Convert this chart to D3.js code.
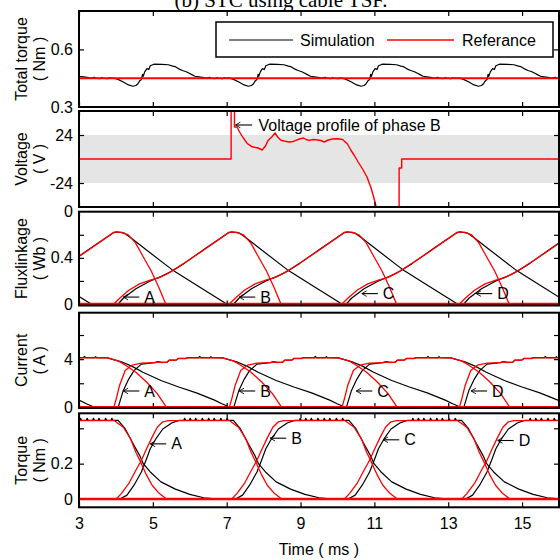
<!DOCTYPE html>
<html>
<head>
<meta charset="utf-8">
<script src="https://cdn.jsdelivr.net/npm/d3@7"></script>
<style>
body { margin: 0; background: #fff; }
svg { display: block; }
</style>
</head>
<body>
<div id="chart"></div>
<script>
// ---- data ----
// time axis (ms)
var timeDomain = [3, 16];
var timeTicks = [3, 5, 7, 9, 11, 13, 15];

// start of each phase stroke (ms), taken from the rising edges
var strokeStarts = [-2.85, 0.82, 3.94, 7.07, 10.12, 13.3];
var phaseNames = ["A", "B", "C", "D"];

// y tick marks and labelled values per panel
var totalTicks = [0.6], totalLabels = [0.3, 0.6];
var voltTicks = [-24, 24], voltLabels = [-24, 24];
var fluxTicks = [0.2, 0.4, 0.6], fluxLabels = [0, 0.4, 0.8];
var curTicks = [2, 4, 6], curLabels = [0, 4];
var torqTicks = [0.2, 0.4], torqLabels = [0, 0.2];

// total torque: reference value and one stroke of the simulated ripple [ms after stroke start, Nm]
var totalRef = 0.45;
var totalBump = [[0,0.45],[0.1,0.445],[0.26,0.43],[0.4,0.415],[0.52,0.408],[0.6,0.412],[0.65,0.42],
  [0.7,0.435],[0.75,0.443],[0.78,0.47],[0.8,0.46],[0.84,0.483],[0.9,0.5],[0.95,0.495],[0.99,0.515],
  [1.09,0.523],[1.3,0.522],[1.48,0.52],[1.6,0.513],[1.67,0.51],[1.75,0.5],[1.86,0.49],[1.95,0.485],
  [2.06,0.474],[2.1,0.47],[2.2,0.46],[2.3,0.457],[2.45,0.453],[2.5,0.45],[2.6,0.455],[2.62,0.45],
  [2.75,0.448],[2.8,0.454],[2.82,0.45],[2.95,0.447],[3.0,0.453],[3.02,0.45],[3.1,0.45]];

// phase B voltage [ms, V]
var voltB = [[3,0],[7.12,0],[7.12,60],[7.21,60],[7.21,32],[7.28,32],[7.35,27],[7.45,21],[7.56,15.4],
  [7.69,12.2],[7.85,11],[7.96,9],[8.05,13],[8.12,18.6],[8.22,22],[8.31,26],[8.38,22],[8.46,19],
  [8.55,18],[8.69,17],[8.8,17.5],[8.87,18.6],[8.97,20],[9.08,21],[9.15,19.5],[9.23,18.6],[9.35,19.5],
  [9.46,19],[9.55,18.5],[9.64,17],[9.75,19],[9.87,20],[10.0,20.2],[10.14,19.5],[10.27,15],[10.36,9],
  [10.45,4],[10.56,-3],[10.68,-10],[10.8,-18],[10.91,-29],[10.98,-38],[11.05,-48],[11.1,-60],
  [11.67,-60],[11.67,-9],[11.74,-9],[11.74,0],[16,0]];
var voltBand = [-24, 24];

// flux linkage of one phase stroke [ms after stroke start, Wb]
var fluxRef = [[0,0],[0.16,0.05],[0.41,0.119],[0.7,0.174],[0.99,0.207],[1.23,0.229],[1.47,0.265],
  [1.77,0.325],[2.4,0.46],[3.13,0.623],[3.32,0.623],[3.51,0.6],[3.71,0.53],[3.9,0.42],[4.14,0.284],
  [4.34,0.146],[4.53,0]];
var fluxSim = [[0.12,0],[0.26,0.05],[0.6,0.132],[0.99,0.2],[1.28,0.237],[1.57,0.284],[1.9,0.35],
  [2.5,0.485],[3.1,0.615],[3.2,0.625],[3.3,0.62],[3.4,0.615],[3.6,0.57],[4.0,0.47],[4.69,0.3],
  [5.4,0.155],[6.18,0]];

// phase current of one stroke [ms after stroke start, A]
var curRef = [[0,0],[0.07,0.73],[0.16,1.84],[0.31,3.05],[0.5,3.51],[0.75,3.67],[1.1,3.7],[1.2,3.78],
  [1.3,3.72],[1.45,3.75],[1.5,3.9],[1.7,3.92],[1.75,4.05],[1.95,4.05],[2.0,4.1],[2.95,4.1],[3.24,3.86],
  [3.43,3.51],[3.72,2.91],[4.01,2.1],[4.3,1.14],[4.55,0]];
var curSim = [[0.12,0],[0.26,1.41],[0.41,2.37],[0.55,3.05],[0.75,3.59],[0.99,3.67],[1.1,3.72],[1.2,3.8],
  [1.3,3.74],[1.45,3.76],[1.5,3.92],[1.7,3.94],[1.75,4.06],[1.95,4.06],[2.0,4.12],[2.3,4.12],[2.33,4.22],
  [2.36,4.12],[2.6,4.12],[2.63,4.2],[2.66,4.12],[2.95,4.1],[3.33,3.78],[3.62,3.4],[3.91,2.91],[4.4,2.23],
  [4.88,1.69],[5.36,1.2],[5.85,0.6],[6.05,0.3],[6.24,0.05],[6.3,0]];

// phase torque of one stroke [ms after stroke start, Nm]
var torqRef = [[0.07,0],[0.21,0.032],[0.41,0.088],[0.6,0.163],[0.75,0.219],[0.89,0.284],[1.04,0.35],
  [1.18,0.406],[1.33,0.437],[1.48,0.443],[3.14,0.443],[3.38,0.406],[3.58,0.34],[3.72,0.265],[3.87,0.2],
  [4.01,0.135],[4.16,0.078],[4.35,0.032],[4.55,0]];
var torqSim = [[0.17,0],[0.36,0.022],[0.55,0.078],[0.75,0.153],[0.89,0.228],[0.99,0.284],[1.14,0.34],
  [1.33,0.396],[1.57,0.43],[1.77,0.445],[1.9,0.445],[1.92,0.457],[1.95,0.445],[2.05,0.445],[2.07,0.457],
  [2.1,0.445],[2.2,0.445],[2.22,0.457],[2.25,0.445],[2.38,0.445],[2.4,0.457],[2.43,0.445],[2.55,0.445],
  [2.57,0.457],[2.6,0.445],[2.7,0.445],[2.72,0.457],[2.75,0.445],[2.88,0.445],[2.9,0.457],[2.93,0.445],
  [3.05,0.445],[3.07,0.457],[3.1,0.445],[3.24,0.445],[3.43,0.398],[3.62,0.323],[3.82,0.247],[3.92,0.2],
  [4.11,0.153],[4.4,0.097],[4.79,0.056],[5.18,0.026],[5.56,0.007],[5.95,0]];

// phase label arrows: arrow head time (ms) and height (panel units)
var fluxLabelT = [4.2, 7.34, 10.66, 13.76], fluxLabelV = [0.06, 0.06, 0.09, 0.09];
var curLabelT = [4.2, 7.34, 10.51, 13.62], curLabelV = [1.36, 1.36, 1.36, 1.36];
var torqLabelT = [4.93, 8.18, 11.24, 14.34], torqLabelV = [0.312, 0.344, 0.335, 0.331];

// ---- layout ----
var width = 560, height = 560;
var x = d3.scaleLinear().domain(timeDomain).range([79, 559]);

var svg = d3.select("#chart").append("svg")
    .attr("width", width)
    .attr("height", height)
    .style("font-family", "'Liberation Sans', Arial, sans-serif");

// open arrow head, pointing back along the line (like a "←")
svg.append("defs").append("marker")
    .attr("id", "head")
    .attr("viewBox", "-1 -5 10 10")
    .attr("refX", 0).attr("refY", 0)
    .attr("markerWidth", 8).attr("markerHeight", 8)
    .attr("markerUnits", "userSpaceOnUse")
    .attr("orient", "auto")
    .append("path")
    .attr("d", "M6,-3.5L0,0L6,3.5")
    .attr("fill", "none")
    .attr("stroke", "#000")
    .attr("stroke-width", 1.1);

// title, cut at the top edge like the original
svg.append("text")
    .attr("x", 281).attr("y", 7)
    .attr("text-anchor", "middle")
    .style("font-family", "'Liberation Serif', 'Times New Roman', serif")
    .style("font-size", "21px")
    .text("(b) STC using cable TSF.");

var panels = [
  {id: "p1", top: 11, bottom: 107, domain: [0.3, 0.8], ticks: totalTicks, labels: totalLabels, title: ["Total torque", "( Nm )"]},
  {id: "p2", top: 111, bottom: 207, domain: [-48, 48], ticks: voltTicks, labels: voltLabels, title: ["Voltage", "( V )"]},
  {id: "p3", top: 211.7, bottom: 305.5, domain: [-0.013, 0.8], ticks: fluxTicks, labels: fluxLabels, title: ["Fluxlinkage", "( Wb )"]},
  {id: "p4", top: 312.7, bottom: 408, domain: [-0.05, 7.85], ticks: curTicks, labels: curLabels, title: ["Current", "( A )"]},
  {id: "p5", top: 413.3, bottom: 507.3, domain: [-0.047, 0.485], ticks: torqTicks, labels: torqLabels, title: ["Torque", "( Nm )"]}
];

panels.forEach(function(p) {
    p.y = d3.scaleLinear().domain(p.domain).range([p.bottom, p.top]);
    p.g = svg.append("g");
    p.g.append("clipPath").attr("id", "clip-" + p.id)
        .append("rect")
        .attr("x", x.range()[0]).attr("y", p.top)
        .attr("width", x.range()[1] - x.range()[0]).attr("height", p.bottom - p.top);
    p.plot = p.g.append("g").attr("clip-path", "url(#clip-" + p.id + ")");
});

function lineFor(y) {
    return d3.line().x(function(d) { return x(d[0]); }).y(function(d) { return y(d[1]); });
}

function shifted(tpl, s) {
    return tpl.map(function(d) { return [d[0] + s, d[1]]; });
}

function drawPath(g, pts, y, color, w) {
    g.append("path")
        .datum(pts)
        .attr("d", lineFor(y))
        .attr("fill", "none")
        .attr("stroke", color)
        .attr("stroke-width", w)
        .attr("stroke-linejoin", "round");
}

// ---- panel 1: total torque ----
var p1 = panels[0];
var totalStarts = strokeStarts.filter(function(s) { return s > 0; });
var totalPts = [];
totalStarts.forEach(function(s, i) {
    var next = i < totalStarts.length - 1 ? totalStarts[i + 1] : timeDomain[1] + 1;
    totalBump.forEach(function(d) {
        if (d[0] + s < next) totalPts.push([d[0] + s, d[1]]);
    });
});
drawPath(p1.plot, totalPts, p1.y, "#000", 1.2);
drawPath(p1.plot, [[timeDomain[0], totalRef], [timeDomain[1], totalRef]], p1.y, "#ff0000", 2);

// legend
var leg = svg.append("g");
leg.append("rect").attr("x", 216).attr("y", 22).attr("width", 337).attr("height", 35)
    .attr("fill", "#fff").attr("stroke", "#000").attr("stroke-width", 1.5);
leg.append("line").attr("x1", 229).attr("x2", 293).attr("y1", 40).attr("y2", 40)
    .attr("stroke", "#000").attr("stroke-width", 1.2);
leg.append("text").attr("x", 300).attr("y", 40).attr("dy", "0.35em")
    .style("font-size", "16px").text("Simulation");
leg.append("line").attr("x1", 387).attr("x2", 454).attr("y1", 40).attr("y2", 40)
    .attr("stroke", "#ff0000").attr("stroke-width", 1.5);
leg.append("text").attr("x", 462).attr("y", 40).attr("dy", "0.35em")
    .style("font-size", "16px").text("Referance");

// ---- panel 2: voltage ----
var p2 = panels[1];
p2.plot.append("rect")
    .attr("x", x.range()[0]).attr("width", x.range()[1] - x.range()[0])
    .attr("y", p2.y(voltBand[1])).attr("height", p2.y(voltBand[0]) - p2.y(voltBand[1]))
    .attr("fill", "#e5e5e5");
drawPath(p2.plot, voltB, p2.y, "#ff0000", 1.4);
svg.append("line")
    .attr("x1", x(7.24)).attr("x2", x(7.69))
    .attr("y1", p2.y(34)).attr("y2", p2.y(34))
    .attr("stroke", "#000").attr("stroke-width", 1.1)
    .attr("marker-start", "url(#head)");
svg.append("text").attr("x", x(7.86)).attr("y", p2.y(34)).attr("dy", "0.35em")
    .style("font-size", "16px").text("Voltage profile of phase B");

// ---- panels 3-5: per-phase curves ----
function drawPhases(p, simTpl, refTpl) {
    drawPath(p.plot, [[timeDomain[0], 0], [timeDomain[1], 0]], p.y, "#000", 1.2);
    strokeStarts.forEach(function(s) {
        drawPath(p.plot, shifted(simTpl, s), p.y, "#000", 1.2);
    });
    strokeStarts.forEach(function(s) {
        drawPath(p.plot, shifted(refTpl, s), p.y, "#ff0000", 1.3);
    });
    drawPath(p.plot, [[timeDomain[0], 0], [timeDomain[1], 0]], p.y, "#ff0000", 2.6);
}

function drawLabels(p, ts, vs) {
    ts.forEach(function(t, i) {
        var yy = p.y(vs[i]);
        svg.append("line")
            .attr("x1", x(t)).attr("x2", x(t) + 16)
            .attr("y1", yy).attr("y2", yy)
            .attr("stroke", "#000").attr("stroke-width", 1.1)
            .attr("marker-start", "url(#head)");
        svg.append("text").attr("x", x(t) + 21).attr("y", yy).attr("dy", "0.35em")
            .style("font-size", "16px").text(phaseNames[i]);
    });
}

drawPhases(panels[2], fluxSim, fluxRef);
drawPhases(panels[3], curSim, curRef);
drawPhases(panels[4], torqSim, torqRef);
drawLabels(panels[2], fluxLabelT, fluxLabelV);
drawLabels(panels[3], curLabelT, curLabelV);
drawLabels(panels[4], torqLabelT, torqLabelV);

// ---- frames, ticks, labels ----
panels.forEach(function(p, i) {
    var g = p.g;
    // inward ticks on all four sides
    g.append("g").attr("transform", "translate(" + x.range()[0] + ",0)")
        .call(d3.axisLeft(p.y).tickValues(p.ticks).tickSize(-5).tickFormat(""));
    g.append("g").attr("transform", "translate(" + x.range()[1] + ",0)")
        .call(d3.axisRight(p.y).tickValues(p.ticks).tickSize(-5).tickFormat(""));
    g.append("g").attr("transform", "translate(0," + p.top + ")")
        .call(d3.axisTop(x).tickValues(timeTicks).tickSize(-5).tickFormat(""));
    g.append("g").attr("transform", "translate(0," + p.bottom + ")")
        .call(d3.axisBottom(x).tickValues(timeTicks).tickSize(-5).tickFormat(""));
    g.selectAll(".domain").remove();
    g.selectAll(".tick line").attr("stroke-width", 1.2);

    // tick labels
    var lab = g.append("g").attr("transform", "translate(" + x.range()[0] + ",0)")
        .call(d3.axisLeft(p.y).tickValues(p.labels).tickSize(0).tickPadding(6)
            .tickFormat(function(d) { return (p.id === "p3" && d === 0.8) ? "0" : d; }));
    lab.select(".domain").remove();
    lab.selectAll("text").style("font-size", "16px").attr("fill", "#000")
        .style("font-family", "'Liberation Sans', Arial, sans-serif");

    // frame
    g.append("rect")
        .attr("x", x.range()[0]).attr("y", p.top)
        .attr("width", x.range()[1] - x.range()[0]).attr("height", p.bottom - p.top)
        .attr("fill", "none").attr("stroke", "#000").attr("stroke-width", 2);

    // y titles
    var cy = (p.top + p.bottom) / 2;
    g.append("text")
        .attr("transform", "translate(21," + cy + ") rotate(-90)")
        .attr("text-anchor", "middle").attr("dy", "0.35em")
        .style("font-size", "16px").text(p.title[0]);
    g.append("text")
        .attr("transform", "translate(39," + cy + ") rotate(-90)")
        .attr("text-anchor", "middle").attr("dy", "0.35em")
        .style("font-size", "16px").text(p.title[1]);
});

// time axis labels
var last = panels[panels.length - 1];
var xl = svg.append("g").attr("transform", "translate(0," + last.bottom + ")")
    .call(d3.axisBottom(x).tickValues(timeTicks).tickSize(0).tickPadding(10));
xl.select(".domain").remove();
xl.selectAll("text").style("font-size", "16px").attr("fill", "#000")
    .style("font-family", "'Liberation Sans', Arial, sans-serif");

svg.append("text")
    .attr("x", (x.range()[0] + x.range()[1]) / 2).attr("y", 555)
    .attr("text-anchor", "middle")
    .style("font-size", "16px")
    .text("Time ( ms )");
</script>
</body>
</html>
